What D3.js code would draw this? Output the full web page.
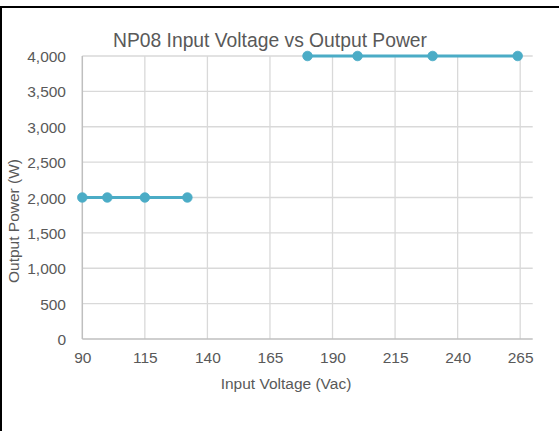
<!DOCTYPE html>
<html>
<head>
<meta charset="utf-8">
<script src="https://cdn.jsdelivr.net/npm/d3@7"></script>
<style>
  html, body { margin: 0; padding: 0; background: #fff; }
  svg { display: block; }
  text { font-family: "Liberation Sans", Arial, sans-serif; fill: #595959; }
</style>
</head>
<body>
<svg id="chart" width="559" height="431"></svg>
<script>
// Data
const lowLineVoltage = [90, 100, 115, 132];
const lowLinePower = [2000, 2000, 2000, 2000];
const highLineVoltage = [180, 200, 230, 264];
const highLinePower = [4000, 4000, 4000, 4000];
const xTicks = [90, 115, 140, 165, 190, 215, 240, 265];
const yTicks = [0, 500, 1000, 1500, 2000, 2500, 3000, 3500, 4000];
const titleText = "NP08 Input Voltage vs Output Power";
const xTitle = "Input Voltage (Vac)";
const yTitle = "Output Power (W)";

const svg = d3.select("#chart");
const W = 559, H = 431;
const plot = { left: 82.3, right: 532.7, top: 56, bottom: 339 };

const x = d3.scaleLinear().domain([90, 270]).range([plot.left, plot.right]);
const y = d3.scaleLinear().domain([0, 4000]).range([plot.bottom, plot.top]);

// Outer frame (partially visible)
svg.append("line").attr("x1", 0).attr("x2", W).attr("y1", 7).attr("y2", 7)
  .attr("stroke", "#000").attr("stroke-width", 2);
svg.append("line").attr("x1", 1).attr("x2", 1).attr("y1", 6).attr("y2", H)
  .attr("stroke", "#000").attr("stroke-width", 2);

// Gridlines
const g = svg.append("g");
g.selectAll(".hg").data(yTicks.filter(d => d !== 0)).enter().append("line")
  .attr("x1", plot.left).attr("x2", plot.right)
  .attr("y1", d => y(d)).attr("y2", d => y(d))
  .attr("stroke", "#d9d9d9").attr("stroke-width", 1.3);
g.selectAll(".vg").data(xTicks.filter(d => d !== 90)).enter().append("line")
  .attr("x1", d => x(d)).attr("x2", d => x(d))
  .attr("y1", plot.top).attr("y2", plot.bottom)
  .attr("stroke", "#d9d9d9").attr("stroke-width", 1.3);

// Axis lines
g.append("line").attr("x1", plot.left).attr("x2", plot.right)
  .attr("y1", y(0)).attr("y2", y(0)).attr("stroke", "#bfbfbf").attr("stroke-width", 1.5);
g.append("line").attr("x1", x(90)).attr("x2", x(90))
  .attr("y1", plot.top).attr("y2", plot.bottom).attr("stroke", "#bfbfbf").attr("stroke-width", 1.5);

// Axes labels via d3 axes
const fmt = d3.format(",");
const yAxis = d3.axisLeft(y).tickValues(yTicks).tickFormat(fmt).tickSize(0).tickPadding(0);
const yg = svg.append("g").attr("transform", `translate(${66},0)`).call(yAxis);
yg.select(".domain").remove();
yg.selectAll("text").attr("font-size", "15.5px").attr("fill", "#595959")
  .attr("font-family", "Liberation Sans, Arial, sans-serif").attr("dy", "0.36em").attr("x", 0);

const xAxis = d3.axisBottom(x).tickValues(xTicks).tickSize(0).tickPadding(0);
const xg = svg.append("g").attr("transform", `translate(0,${363})`).call(xAxis);
xg.select(".domain").remove();
xg.selectAll("text").attr("font-size", "15.5px").attr("fill", "#595959")
  .attr("font-family", "Liberation Sans, Arial, sans-serif").attr("dy", 0).attr("y", 0);

// Series
const line = d3.line().x(d => x(d[0])).y(d => y(d[1]));
const color = "#4bacc6";
const series = [
  d3.zip(lowLineVoltage, lowLinePower),
  d3.zip(highLineVoltage, highLinePower)
];
series.forEach(s => {
  svg.append("path").datum(s).attr("d", line)
    .attr("fill", "none").attr("stroke", color).attr("stroke-width", 3)
    .attr("stroke-linejoin", "round");
  svg.selectAll(null).data(s).enter().append("circle")
    .attr("cx", d => x(d[0])).attr("cy", d => y(d[1])).attr("r", 4.8)
    .attr("fill", color).attr("stroke", color).attr("stroke-width", 0.8);
});

// Titles
svg.append("text").attr("x", 270).attr("y", 47).attr("text-anchor", "middle")
  .attr("font-size", "19.3px").text(titleText);
svg.append("text").attr("x", 286).attr("y", 389).attr("text-anchor", "middle")
  .attr("font-size", "15.5px").text(xTitle);
svg.append("text").attr("transform", "translate(19,221) rotate(-90)")
  .attr("text-anchor", "middle").attr("font-size", "15.5px").text(yTitle);
</script>
</body>
</html>
